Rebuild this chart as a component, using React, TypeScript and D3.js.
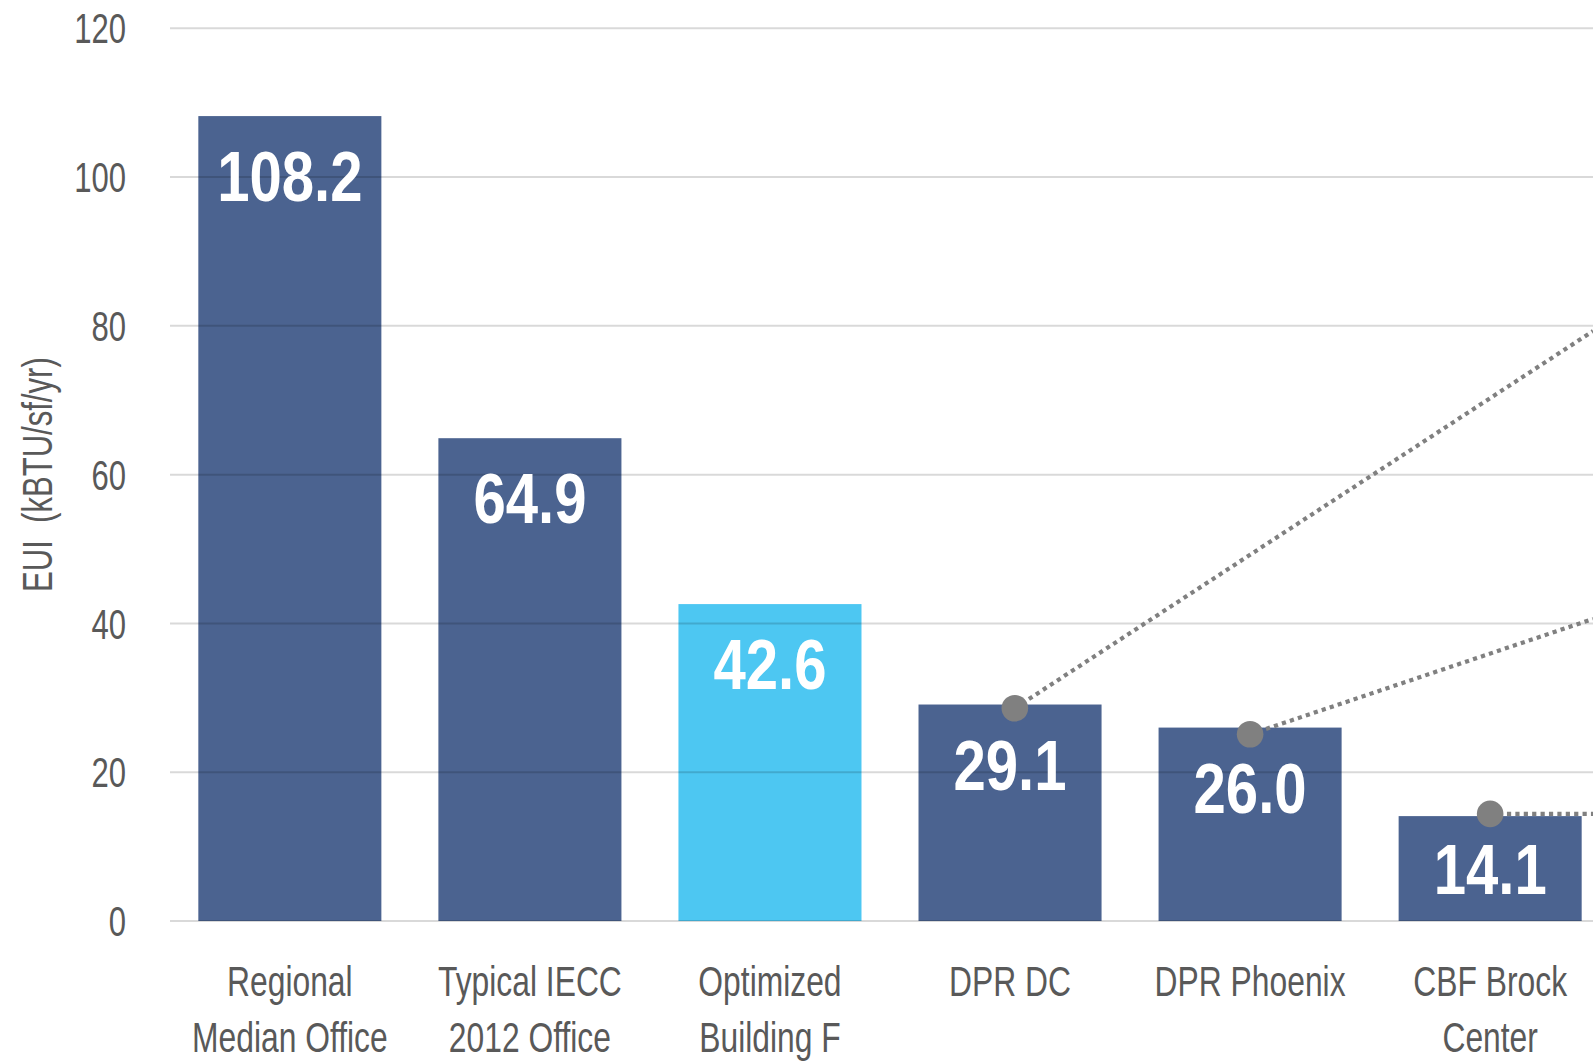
import React from "react";
import * as d3 from "d3";

// ---- data ----
const categories: string[][] = [
  ["Regional", "Median Office"],
  ["Typical IECC", "2012 Office"],
  ["Optimized", "Building F"],
  ["DPR DC"],
  ["DPR Phoenix"],
  ["CBF Brock", "Center"],
];
const euiValues: number[] = [108.2, 64.9, 42.6, 29.1, 26.0, 14.1];
const highlighted: boolean[] = [false, false, true, false, false, false];
const yTicks: number[] = [0, 20, 40, 60, 80, 100, 120];
const yTitle = "EUI  (kBTU/sf/yr)";

// connector markers (category index, value) and where the dotted line leaves the frame (value at right edge)
const markerIndex: number[] = [3.02, 4, 5];
const markerValues: number[] = [28.6, 25.1, 14.4];
const connectorEndValues: number[] = [79.3, 40.6, 14.4];

// ---- layout ----
const W = 1593;
const H = 1061;
const plotLeft = 170;
const plotTop = 28.3;
const plotBottom = 921;
const FONT = "'Liberation Sans', Arial, sans-serif";

const DARK = "#4B6390";
const LIGHT = "#4DC7F2";
const TEXT = "#595959";
const DOT = "#808080";

const SX = 0.74; // condensed look
const SXB = 0.83;

export default function App() {
  const y = d3.scaleLinear().domain([0, 120]).range([plotBottom, plotTop]);
  const keys = categories.map((c) => c.join(" "));
  const x = d3
    .scaleBand<string>()
    .domain(keys)
    .range([plotLeft, plotLeft + 6 * 240])
    .paddingInner(0.2375)
    .paddingOuter(0.118);
  const bw = x.bandwidth();
  const xCenter = d3
    .scaleLinear()
    .domain([0, 1])
    .range([x(keys[0])! + bw / 2, x(keys[1])! + bw / 2]);
  const fmt = d3.format(".1f");
  const labelBaseline = (v: number) =>
    Math.min(y(v) + 85, (y(v) + y(0)) / 2 + 25);

  return (
    <svg
      width={W}
      height={H}
      style={{ position: "absolute", left: 0, top: 0, background: "#fff" }}
      fontFamily={FONT}
    >
      {/* bars */}
      {euiValues.map((v, i) => (
        <rect
          key={"b" + i}
          x={x(keys[i])}
          y={y(v)}
          width={bw}
          height={y(0) - y(v)}
          fill={highlighted[i] ? LIGHT : DARK}
        />
      ))}
      {/* gridlines */}
      {yTicks.map((t) => (
        <line
          key={"g" + t}
          x1={plotLeft}
          x2={W}
          y1={y(t)}
          y2={y(t)}
          stroke="rgba(0,0,0,0.15)"
          strokeWidth={2}
        />
      ))}
      {/* y tick labels */}
      {yTicks.map((t) => (
        <text
          key={"t" + t}
          transform={`translate(126,${y(t)}) scale(${SX},1)`}
          dy="0.36em"
          textAnchor="end"
          fontSize={42}
          fill={TEXT}
        >
          {t}
        </text>
      ))}
      {/* y title */}
      <text
        transform={`translate(52,${(plotTop + plotBottom) / 2}) rotate(-90) scale(${SX},1)`}
        textAnchor="middle"
        fontSize={42}
        fill={TEXT}
        style={{ whiteSpace: "pre" }}
      >
        {yTitle}
      </text>
      {/* value labels */}
      {euiValues.map((v, i) => (
        <text
          key={"v" + i}
          transform={`translate(${x(keys[i])! + bw / 2},${labelBaseline(v)}) scale(${SXB},1)`}
          textAnchor="middle"
          fontSize={70}
          fontWeight="bold"
          fill="#fff"
        >
          {fmt(v)}
        </text>
      ))}
      {/* x labels */}
      {categories.map((lines, i) =>
        lines.map((l, j) => (
          <text
            key={"x" + i + "-" + j}
            transform={`translate(${x(keys[i])! + bw / 2},${996 + j * 56}) scale(${SX},1)`}
            textAnchor="middle"
            fontSize={43}
            fill={TEXT}
          >
            {l}
          </text>
        ))
      )}
      {/* connectors */}
      {markerValues.map((v, i) => (
        <line
          key={"c" + i}
          x1={xCenter(markerIndex[i])}
          y1={y(v)}
          x2={W}
          y2={y(connectorEndValues[i])}
          stroke={DOT}
          strokeWidth={4.2}
          strokeDasharray="4.2 4.2"
        />
      ))}
      {markerValues.map((v, i) => (
        <circle key={"d" + i} cx={xCenter(markerIndex[i])} cy={y(v)} r={13.3} fill={DOT} />
      ))}
    </svg>
  );
}
